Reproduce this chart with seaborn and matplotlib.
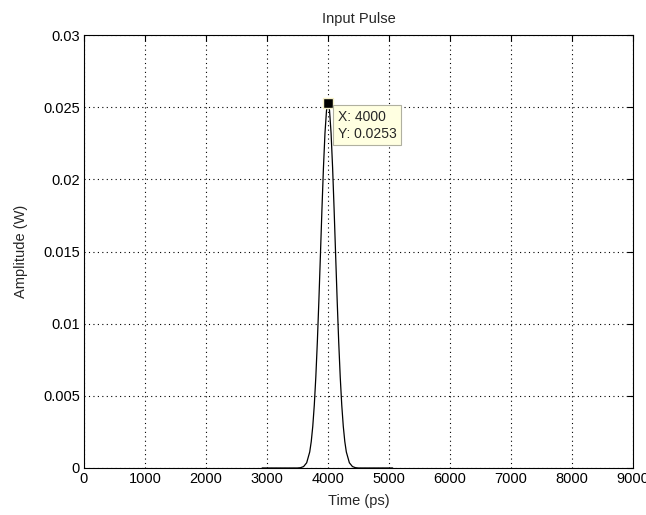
import matplotlib
matplotlib.use("Agg")
import matplotlib.pyplot as plt
import matplotlib.ticker as mticker
import seaborn as sns
import pandas as pd

# pulse samples (ps, W)
time_ps = [2920, 3500, 3550, 3600, 3650, 3700, 3725, 3750, 3775, 3800, 3825,
           3850, 3875, 3900, 3925, 3950, 3975, 4000, 4025, 4050, 4075, 4100,
           4125, 4150, 4175, 4200, 4225, 4250, 4275, 4300, 4350, 4400, 4450,
           4500, 5060]
amplitude_w = [0.0, 0.0, 0.00002, 0.0001, 0.00036, 0.00111, 0.00183, 0.00289,
               0.00436, 0.00631, 0.00874, 0.01159, 0.01471, 0.01788, 0.02081,
               0.0232, 0.02476, 0.0253, 0.02476, 0.0232, 0.02081, 0.01788,
               0.01471, 0.01159, 0.00874, 0.00631, 0.00436, 0.00289, 0.00183,
               0.00111, 0.00036, 0.0001, 0.00002, 0.0, 0.0]

x_ticks = [0, 1000, 2000, 3000, 4000, 5000, 6000, 7000, 8000, 9000]
y_ticks = [0, 0.005, 0.01, 0.015, 0.02, 0.025, 0.03]

tip_x = 4000
tip_y = 0.0253

df = pd.DataFrame({"Time (ps)": time_ps, "Amplitude (W)": amplitude_w})

sns.set_style("white")
plt.rcParams['font.family'] = ['Liberation Sans', 'DejaVu Sans']

fig = plt.figure(figsize=(6.46, 5.15), dpi=100)
ax = fig.add_axes([0.130, 0.0913, 0.850, 0.8407])

sns.lineplot(data=df, x="Time (ps)", y="Amplitude (W)", ax=ax,
             color="black", linewidth=0.9, zorder=3)

ax.set_xlim(0, 9000)
ax.set_ylim(0, 0.03)
ax.set_xticks(x_ticks)
ax.set_yticks(y_ticks)
ax.yaxis.set_major_formatter(mticker.FuncFormatter(lambda v, p: "%g" % round(v, 4)))

ax.grid(True, color="black", linestyle=(0, (1, 3)), linewidth=0.8)
ax.tick_params(direction="in", length=4, width=0.8, labelsize=10.5,
               top=True, right=True, colors="black", pad=3)
for s in ax.spines.values():
    s.set_color("black")
    s.set_linewidth(0.8)

ax.set_xlabel("Time (ps)", fontsize=10.5, labelpad=6)
ax.set_ylabel("Amplitude (W)", fontsize=10.5, labelpad=10.5)
ax.set_title("Input Pulse", fontsize=10.5, pad=8.5)

# data tip
ax.plot([tip_x], [tip_y], marker="s", markersize=7, color="black",
        markeredgecolor="#f5f0c8", markeredgewidth=1, zorder=5, clip_on=False)
ax.annotate("X: %d\nY: %.4f" % (tip_x, tip_y), xy=(tip_x, tip_y),
            xytext=(7, -5), textcoords="offset points", ha="left", va="top",
            fontsize=10, linespacing=1.25, zorder=6,
            bbox=dict(boxstyle="square,pad=0.35", fc="#ffffe1", ec="#b0b0a0", lw=0.8))

fig.savefig("out.png", dpi=100, facecolor="white")
